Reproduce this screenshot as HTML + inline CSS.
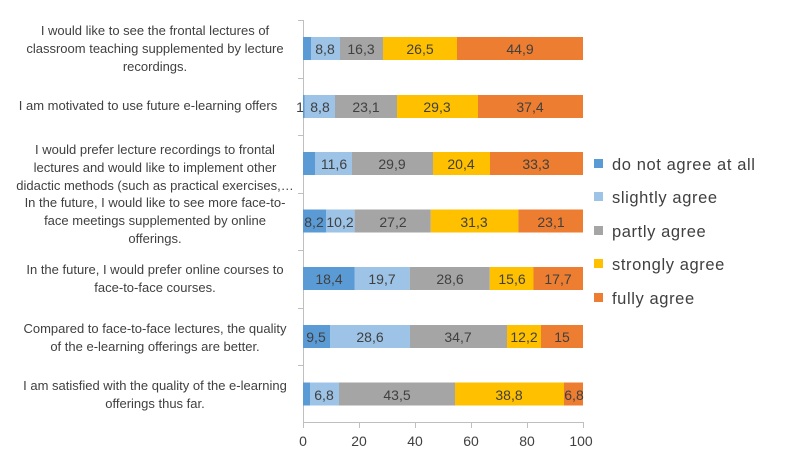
<!DOCTYPE html>
<html><head><meta charset="utf-8"><style>
body{margin:0;background:#fff}
text{font-family:"Liberation Sans",sans-serif;fill:#404040}
</style></head><body>
<svg width="792" height="462" xmlns="http://www.w3.org/2000/svg">
<g font-size="13" text-anchor="middle">
<text x="155" y="35">I would like to see the frontal lectures of</text>
<text x="155" y="53">classroom teaching supplemented by lecture</text>
<text x="155" y="71">recordings.</text>
<text x="148" y="110">I am motivated to use future e-learning offers</text>
<text x="155" y="154">I would prefer lecture recordings to frontal</text>
<text x="155" y="172">lectures and would like to implement other</text>
<text x="155" y="190">didactic methods (such as practical exercises,…</text>
<text x="155" y="207">In the future, I would like to see more face-to-</text>
<text x="155" y="225">face meetings supplemented by online</text>
<text x="155" y="243">offerings.</text>
<text x="155" y="274">In the future, I would prefer online courses to</text>
<text x="155" y="292">face-to-face courses.</text>
<text x="155" y="333">Compared to face-to-face lectures, the quality</text>
<text x="155" y="351">of the e-learning offerings are  better.</text>
<text x="155" y="390">I am satisfied with the quality of the e-learning</text>
<text x="155" y="408">offerings thus far.</text>
</g>
<g stroke="#bfbfbf" stroke-width="1">
<line x1="303.5" y1="20" x2="303.5" y2="423"/>
<line x1="303" y1="422.5" x2="584" y2="422.5"/>
<line x1="298" y1="20.5" x2="303" y2="20.5"/>
<line x1="298" y1="78.5" x2="303" y2="78.5"/>
<line x1="298" y1="135.5" x2="303" y2="135.5"/>
<line x1="298" y1="193.5" x2="303" y2="193.5"/>
<line x1="298" y1="250.5" x2="303" y2="250.5"/>
<line x1="298" y1="308.5" x2="303" y2="308.5"/>
<line x1="298" y1="365.5" x2="303" y2="365.5"/>
<line x1="303.5" y1="422" x2="303.5" y2="428"/>
<line x1="359.5" y1="422" x2="359.5" y2="428"/>
<line x1="415.5" y1="422" x2="415.5" y2="428"/>
<line x1="471.5" y1="422" x2="471.5" y2="428"/>
<line x1="527.5" y1="422" x2="527.5" y2="428"/>
<line x1="583.5" y1="422" x2="583.5" y2="428"/>
</g>
<g font-size="14" text-anchor="middle">
<text x="303" y="446">0</text><text x="359" y="446">20</text><text x="415" y="446">40</text><text x="471" y="446">60</text><text x="527" y="446">80</text><text x="581" y="446">100</text>
</g>
<g>
<rect x="303" y="37" width="8" height="23" fill="#5b9bd5"/>
<rect x="311" y="37" width="29" height="23" fill="#9dc3e6"/>
<rect x="340" y="37" width="43" height="23" fill="#a5a5a5"/>
<rect x="383" y="37" width="74" height="23" fill="#ffc000"/>
<rect x="457" y="37" width="126" height="23" fill="#ed7d31"/>
<rect x="303" y="95" width="1.5" height="23" fill="#5b9bd5"/>
<rect x="304.5" y="95" width="30.5" height="23" fill="#9dc3e6"/>
<rect x="335" y="95" width="62" height="23" fill="#a5a5a5"/>
<rect x="397" y="95" width="81" height="23" fill="#ffc000"/>
<rect x="478" y="95" width="105" height="23" fill="#ed7d31"/>
<rect x="303" y="152" width="12" height="23" fill="#5b9bd5"/>
<rect x="315" y="152" width="37" height="23" fill="#9dc3e6"/>
<rect x="352" y="152" width="81" height="23" fill="#a5a5a5"/>
<rect x="433" y="152" width="57" height="23" fill="#ffc000"/>
<rect x="490" y="152" width="93" height="23" fill="#ed7d31"/>
<rect x="303" y="209.5" width="23" height="23" fill="#5b9bd5"/>
<rect x="326" y="209.5" width="28.6" height="23" fill="#9dc3e6"/>
<rect x="354.6" y="209.5" width="76.2" height="23" fill="#a5a5a5"/>
<rect x="430.8" y="209.5" width="87.6" height="23" fill="#ffc000"/>
<rect x="518.4" y="209.5" width="64.6" height="23" fill="#ed7d31"/>
<rect x="303" y="267" width="51.5" height="23" fill="#5b9bd5"/>
<rect x="354.5" y="267" width="55.2" height="23" fill="#9dc3e6"/>
<rect x="409.7" y="267" width="80.1" height="23" fill="#a5a5a5"/>
<rect x="489.8" y="267" width="43.7" height="23" fill="#ffc000"/>
<rect x="533.5" y="267" width="49.5" height="23" fill="#ed7d31"/>
<rect x="303" y="325" width="27" height="23" fill="#5b9bd5"/>
<rect x="330" y="325" width="80" height="23" fill="#9dc3e6"/>
<rect x="410" y="325" width="97" height="23" fill="#a5a5a5"/>
<rect x="507" y="325" width="34" height="23" fill="#ffc000"/>
<rect x="541" y="325" width="42" height="23" fill="#ed7d31"/>
<rect x="303" y="382.5" width="7" height="23" fill="#5b9bd5"/>
<rect x="310" y="382.5" width="29" height="23" fill="#9dc3e6"/>
<rect x="339" y="382.5" width="116" height="23" fill="#a5a5a5"/>
<rect x="455" y="382.5" width="109" height="23" fill="#ffc000"/>
<rect x="564" y="382.5" width="19" height="23" fill="#ed7d31"/>
</g>
<g font-size="14" text-anchor="middle" fill="#262626">
<text x="325" y="54">8,8</text><text x="361" y="54">16,3</text><text x="420" y="54">26,5</text><text x="520" y="54">44,9</text>
<text x="300" y="112">1</text><text x="320" y="112">8,8</text><text x="366" y="112">23,1</text><text x="437" y="112">29,3</text><text x="530" y="112">37,4</text>
<text x="334" y="169">11,6</text><text x="392" y="169">29,9</text><text x="461" y="169">20,4</text><text x="536" y="169">33,3</text>
<text x="314" y="227">8,2</text><text x="340" y="227">10,2</text><text x="393" y="227">27,2</text><text x="474" y="227">31,3</text><text x="551" y="227">23,1</text>
<text x="329" y="284">18,4</text><text x="382" y="284">19,7</text><text x="450" y="284">28,6</text><text x="512" y="284">15,6</text><text x="558" y="284">17,7</text>
<text x="316" y="342">9,5</text><text x="370" y="342">28,6</text><text x="458" y="342">34,7</text><text x="524" y="342">12,2</text><text x="562" y="342">15</text>
<text x="324" y="400">6,8</text><text x="397" y="400">43,5</text><text x="509" y="400">38,8</text><text x="574" y="400">6,8</text>
</g>
<g font-size="16.5" letter-spacing="0.6">
<rect x="594" y="159" width="9" height="9" fill="#5b9bd5"/><text x="612" y="170">do not agree at all</text>
<rect x="594" y="192" width="9" height="9" fill="#9dc3e6"/><text x="612" y="203">slightly agree</text>
<rect x="594" y="226" width="9" height="9" fill="#a5a5a5"/><text x="612" y="237">partly agree</text>
<rect x="594" y="259" width="9" height="9" fill="#ffc000"/><text x="612" y="270">strongly agree</text>
<rect x="594" y="293" width="9" height="9" fill="#ed7d31"/><text x="612" y="304">fully agree</text>
</g>
</svg>
</body></html>
